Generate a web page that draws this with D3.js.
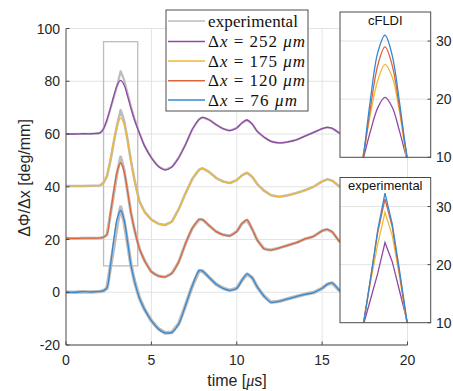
<!DOCTYPE html>
<html><head><meta charset="utf-8">
<script src="https://cdn.jsdelivr.net/npm/d3@7"></script>
<style>body{margin:0;background:#fff} svg{display:block}</style>
</head><body><svg id="c" width="453" height="391"></svg>
<script>
// ---------- DATA ----------
const time = [0,0.5,1,1.5,2,2.2,2.4,2.6,2.8,3.0,3.2,3.4,3.6,3.8,4.0,4.3,4.6,5.0,5.4,5.8,6.2,6.6,7.0,7.4,7.8,8.0,8.4,8.8,9.2,9.6,10.0,10.3,10.6,10.9,11.2,11.6,12.0,12.5,13.0,13.5,14.0,14.5,15.0,15.3,15.6,16.0,16.4];
const dxValues = ["252","175","120","76"];
const offsets = [60, 40, 20, 0];
const colors = ["#9048a6","#efb935","#de643a","#3689d0"];
// cFLDI model curves (un-offset)
const cfldi252 = [0,0,0.1,0.1,0.4,2,5.5,9.8,14.5,18.5,20.3,18.6,14.5,9.8,5.5,0.3,-4.5,-9,-12.2,-13.6,-12.5,-9,-4,1.8,5.6,6.3,5.3,3.5,2,1.3,2.3,4.2,5.3,3.8,1,-1.2,-2.8,-3.4,-3,-2.2,-0.8,0.6,2,2.5,2.1,0.4,-0.8];
const cfldi175 = [0.3,0.3,0.3,0.4,0.5,1.6,4.5,10.5,17.5,23.2,26,23.8,17.8,9.5,2.5,-5.5,-9.5,-12.5,-14,-14.5,-13.2,-8.5,-2.5,3,6.5,7,5.5,3.3,2,1.4,2.5,4.3,5.3,3.8,1,-1.5,-3.2,-3.8,-3.2,-2.4,-1.3,0,2,2.8,2.3,0.2,-1];
const cfldi120 = [0.5,0.4,0.5,0.5,0.6,0.9,2,9.8,18.5,25.8,29,25.8,18.5,10.3,4,-3.5,-8,-12.2,-13.8,-14.2,-12.8,-8.5,-1.5,4.3,7.6,7.5,5.2,3,1.8,1.4,3,6,7.4,4,-0.2,-3.5,-4,-3.2,-2.2,-1.2,0.2,1.2,3.3,3.8,2.8,-0.6,-2];
const cfldi76 = [0,0,0.2,0.1,0.3,0.6,1.8,10,20,28,31,27.5,19.5,10.5,4.5,-2.2,-6.5,-10.8,-13.8,-15.4,-15.2,-12,-5,2.5,8.2,8,5.5,3,1.5,0.7,1.5,4.5,6.9,5.5,2,-1.5,-3.8,-3.4,-2.5,-1.6,-0.8,-0.1,1.5,3,3.5,0.8,-1];
// experimental curves (un-offset)
const exp252 = [0,0,0.1,0.1,0.4,2,5,9.5,14,18.5,23.8,20.5,15.5,10.5,6,0.3,-4.5,-9,-12.2,-13.6,-12.5,-9,-4,1.8,5.6,6.3,5.3,3.5,2,1.3,2.3,4.2,5.3,3.8,1,-1.2,-2.8,-3.4,-3,-2.2,-0.8,0.6,2,2.5,2.1,0.4,-0.8];
const exp175 = [0.3,0.3,0.3,0.4,0.5,1.6,4,9.8,17,23.5,29,25,18,10,3,-5.5,-9.5,-12.5,-14,-14.5,-13.2,-8.5,-2.5,3,6.5,7,5.5,3.3,2,1.4,2.5,4.3,5.3,3.8,1,-1.5,-3.2,-3.8,-3.2,-2.4,-1.3,0,2,2.8,2.3,0.2,-1];
const exp120 = [0.5,0.4,0.5,0.5,0.6,0.9,1.8,9.5,17.5,25.5,31.3,26.5,18.5,10.3,4,-3.5,-8,-12.2,-13.8,-14.2,-12.8,-8.5,-1.5,4.3,7.6,7.5,5.2,3,1.8,1.4,3,6,7.4,4,-0.2,-3.5,-4,-3.2,-2.2,-1.2,0.2,1.2,3.3,3.8,2.8,-0.6,-2];
const exp76 = [0,0,0.2,0.1,0.3,0.6,1.5,9.5,17.5,26,32.3,27,19,10.5,4.5,-2.2,-6.5,-10.8,-13.8,-15.4,-15.2,-12,-5,2.5,8.2,8,5.5,3,1.5,0.7,1.5,4.5,6.9,5.5,2,-1.5,-3.8,-3.4,-2.5,-1.6,-0.8,-0.1,1.5,3,3.5,0.8,-1];
const xTicks = [0,5,10,15,20];
const yTicks = [-20,0,20,40,60,80,100];
const insetTicks = [10,20,30];
const zoomBox = {t0:2.2, t1:4.2, v0:10, v1:95};

const cfldi = [cfldi252, cfldi175, cfldi120, cfldi76];
const expData = [exp252, exp175, exp120, exp76];
const expWidth = [2.2, 2.6, 3.0, 3.6];

// ---------- CHART ----------
const svg = d3.select("#c");
const FONT = "Liberation Sans, Arial, sans-serif";
const x = d3.scaleLinear().domain([0,20]).range([66,407.5]);
const y = d3.scaleLinear().domain([-20,100]).range([345,28.5]);

// grid
const g = svg.append("g");
g.selectAll("line.gy").data(yTicks).join("line")
  .attr("x1",x(0)).attr("x2",x(20)).attr("y1",d=>y(d)).attr("y2",d=>y(d))
  .attr("stroke","#e3e3e3").attr("stroke-width",1);
g.selectAll("line.gx").data(xTicks.slice(1)).join("line")
  .attr("x1",d=>x(d)).attr("x2",d=>x(d)).attr("y1",y(-20)).attr("y2",y(100))
  .attr("stroke","#e3e3e3").attr("stroke-width",1);

// zoom rectangle
svg.append("rect")
  .attr("x",x(zoomBox.t0)).attr("y",y(zoomBox.v1))
  .attr("width",x(zoomBox.t1)-x(zoomBox.t0)).attr("height",y(zoomBox.v0)-y(zoomBox.v1))
  .attr("fill","none").attr("stroke","#bdbdbd").attr("stroke-width",1.3);

// curves
const lineModel = (off) => d3.line().x((d,i)=>x(time[i])).y(d=>y(d+off)).curve(d3.curveCatmullRom.alpha(0.5));
const lineExp = (off) => d3.line().x((d,i)=>x(time[i])).y(d=>y(d+off)).curve(d3.curveLinear);
expData.forEach((arr,k)=>{
  svg.append("path").attr("d",lineExp(offsets[k])(arr))
    .attr("fill","none").attr("stroke","#bcbcbc").attr("stroke-width",expWidth[k]).attr("stroke-linejoin","round");
});
cfldi.forEach((arr,k)=>{
  svg.append("path").attr("d",lineModel(offsets[k])(arr))
    .attr("fill","none").attr("stroke",colors[k]).attr("stroke-width",1.3);
});

// axes
const axG = svg.append("g").attr("font-family",FONT);
axG.append("line").attr("x1",x(0)).attr("x2",x(0)).attr("y1",y(-20)).attr("y2",y(100)).attr("stroke","#4a4a4a");
axG.append("line").attr("x1",x(0)).attr("x2",x(20)).attr("y1",y(-20)).attr("y2",y(-20)).attr("stroke","#4a4a4a");
axG.selectAll("line.ty").data(yTicks).join("line")
  .attr("x1",x(0)).attr("x2",x(0)+3.5).attr("y1",d=>y(d)).attr("y2",d=>y(d)).attr("stroke","#4a4a4a");
axG.selectAll("line.tx").data(xTicks).join("line")
  .attr("x1",d=>x(d)).attr("x2",d=>x(d)).attr("y1",y(-20)).attr("y2",y(-20)-3.5).attr("stroke","#4a4a4a");
axG.selectAll("text.ly").data(yTicks).join("text")
  .attr("x",60).attr("y",d=>y(d)+5).attr("text-anchor","end")
  .attr("font-size",14).attr("fill","#262626").text(d=>d);
axG.selectAll("text.lx").data(xTicks).join("text")
  .attr("x",d=>x(d)).attr("y",365).attr("text-anchor","middle")
  .attr("font-size",14).attr("fill","#262626").text(d=>d);
// axis labels
const xl = axG.append("text").attr("x",237).attr("y",386).attr("text-anchor","middle")
  .attr("font-size",16).attr("fill","#262626");
xl.append("tspan").text("time [");
xl.append("tspan").attr("font-style","italic").attr("font-family","Liberation Serif, serif").text("μ");
xl.append("tspan").text("s]");
axG.append("text").attr("transform","translate(30,178) rotate(-90)").attr("text-anchor","middle")
  .attr("font-size",16).attr("fill","#262626").text("ΔΦ/Δx [deg/mm]");

// legend
const lg = svg.append("g");
lg.append("rect").attr("x",166).attr("y",10).attr("width",142).attr("height",101)
  .attr("fill","#fff").attr("stroke","#3a3a3a").attr("stroke-width",0.9);
const legendRows = [{c:"#bcbcbc", exp:true, w:90}].concat(dxValues.map((v,k)=>({c:colors[k], v, w: v.length===3?97:89})));
const rowY = [21,41.5,61,80.7,100];
legendRows.forEach((r,i)=>{
  lg.append("line").attr("x1",168).attr("x2",205).attr("y1",rowY[i]).attr("y2",rowY[i])
    .attr("stroke",r.c).attr("stroke-width",r.exp?1.3:1.6);
  const t = lg.append("text").attr("x",208).attr("y",rowY[i]+5.5)
    .attr("font-family","Liberation Serif, Times New Roman, serif").attr("font-size",17).attr("fill","#111")
    .attr("textLength",r.w).attr("lengthAdjust","spacing");
  if (r.exp) { t.text("experimental"); }
  else {
    t.append("tspan").text("Δ");
    t.append("tspan").attr("font-style","italic").text("x");
    t.append("tspan").text(" = " + r.v + " ");
    t.append("tspan").attr("font-style","italic").text("μm");
  }
});

// insets
function inset(top, bottom, title, arrays, curveFn, id) {
  const ix = d3.scaleLinear().domain([1.96,4.46]).range([340,430.7]);
  const iy = d3.scaleLinear().domain([10,35]).range([bottom, top]);
  const gi = svg.append("g");
  gi.append("rect").attr("x",340).attr("y",top).attr("width",90.7).attr("height",bottom-top).attr("fill","#fff");
  gi.selectAll("line.gr").data(insetTicks.slice(1)).join("line")
    .attr("x1",340).attr("x2",430.7).attr("y1",d=>iy(d)).attr("y2",d=>iy(d)).attr("stroke","#e3e3e3");
  svg.append("clipPath").attr("id",id).append("rect").attr("x",340).attr("y",top).attr("width",90.7).attr("height",bottom-top);
  const cg = gi.append("g").attr("clip-path",`url(#${id})`);
  arrays.forEach((arr,k)=>{
    cg.append("path").attr("d", d3.line().x((d,i)=>ix(time[i])).y(d=>iy(d)).curve(curveFn)(arr))
      .attr("fill","none").attr("stroke",colors[k]).attr("stroke-width",1.3);
  });
  gi.append("rect").attr("x",340).attr("y",top).attr("width",90.7).attr("height",bottom-top)
    .attr("fill","none").attr("stroke","#4a4a4a").attr("stroke-width",1);
  gi.selectAll("line.tk").data(insetTicks).join("line")
    .attr("x1",430.7).attr("x2",427.5).attr("y1",d=>iy(d)).attr("y2",d=>iy(d)).attr("stroke","#4a4a4a");
  gi.selectAll("text.tl").data(insetTicks).join("text")
    .attr("x",436).attr("y",d=>iy(d)+5).attr("font-family",FONT).attr("font-size",14).attr("fill","#262626").text(d=>d);
  gi.append("text").attr("x",385.3).attr("y",top+12.5).attr("text-anchor","middle")
    .attr("font-family",FONT).attr("font-size",13).attr("fill","#111").text(title);
}
inset(12, 157.3, "cFLDI", cfldi, d3.curveCatmullRom.alpha(0.5), "clipA");
inset(177.5, 322.7, "experimental", expData, d3.curveLinear, "clipB");
</script></body></html>
